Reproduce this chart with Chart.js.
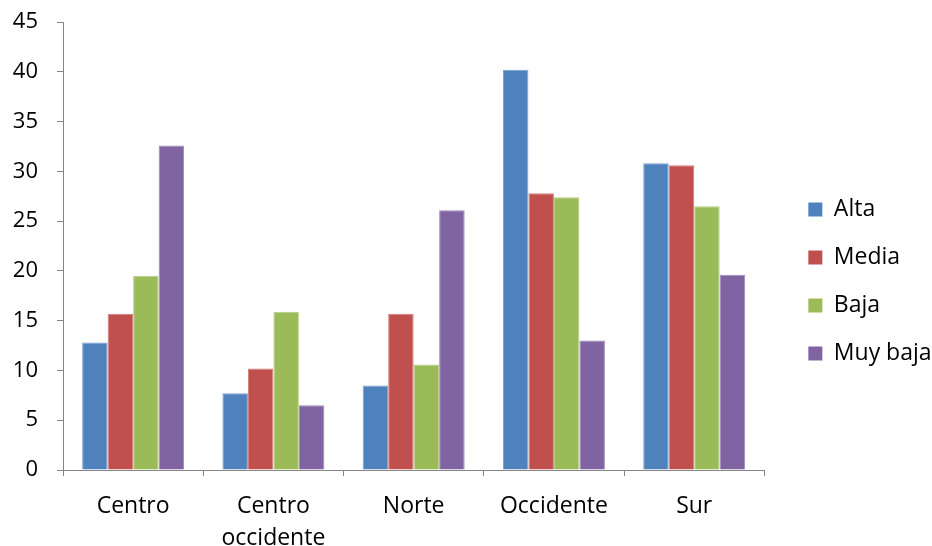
<!DOCTYPE html>
<html>
<head>
<meta charset="utf-8">
<script src="https://cdn.jsdelivr.net/npm/chart.js@4.4.1/dist/chart.umd.min.js"></script>
<style>
  html, body { margin: 0; padding: 0; background: #ffffff; }
  #wrap { width: 932px; height: 546px; }
</style>
</head>
<body>
<div id="wrap"><canvas id="grafico" width="932" height="546"></canvas></div>
<script>
// Regiones (categorías del eje X); las etiquetas con dos líneas van como arreglo
const regiones = [['Centro'], ['Centro', 'occidente'], ['Norte'], ['Occidente'], ['Sur']];

// Valores por nivel
const alta    = [12.8, 7.7, 8.5, 40.2, 30.8];
const media   = [15.7, 10.2, 15.7, 27.8, 30.6];
const baja    = [19.5, 15.9, 10.6, 27.4, 26.5];
const muyBaja = [32.6, 6.5, 26.1, 13.0, 19.6];

// Marcas del eje Y
const marcasY = [0, 5, 10, 15, 20, 25, 30, 35, 40, 45];

const FUENTE = "'Open Sans', 'DejaVu Sans', sans-serif";
const GRIS = '#868686';

new Chart(document.getElementById('grafico'), {
  type: 'bar',
  data: {
    labels: regiones,
    datasets: [
      { label: 'Alta',     data: alta,    backgroundColor: '#4F81BD', borderColor: '#7A9FCF' },
      { label: 'Media',    data: media,   backgroundColor: '#C0504D', borderColor: '#D07C79' },
      { label: 'Baja',     data: baja,    backgroundColor: '#9BBB59', borderColor: '#B6CE85' },
      { label: 'Muy baja', data: muyBaja, backgroundColor: '#8064A2', borderColor: '#9D88B8' }
    ]
  },
  options: {
    responsive: false,
    animation: false,
    devicePixelRatio: 1,
    layout: { padding: { top: 17, left: 0, right: -8, bottom: 0 } },
    datasets: {
      bar: { categoryPercentage: 0.727, barPercentage: 1.0, borderWidth: 1 }
    },
    plugins: {
      tooltip: { enabled: false },
      legend: {
        position: 'right',
        align: 'center',
        labels: {
          boxWidth: 14,
          boxHeight: 14,
          padding: 25,
          color: '#000000',
          font: { family: FUENTE, size: 23 },
          generateLabels: (chart) => chart.data.datasets.map((ds, i) => ({
            text: ds.label,
            fillStyle: ds.backgroundColor,
            strokeStyle: ds.backgroundColor,
            lineWidth: 0,
            fontColor: '#000000',
            hidden: false,
            datasetIndex: i
          }))
        }
      }
    },
    scales: {
      x: {
        grid: { drawOnChartArea: false, offset: true, color: GRIS, tickLength: 6 },
        border: { color: GRIS, width: 1 },
        ticks: {
          color: '#000000',
          padding: 14,
          maxRotation: 0,
          autoSkip: false,
          font: { family: FUENTE, size: 23, lineHeight: 1.39 }
        },
        afterFit: (s) => { s.height = 76; }
      },
      y: {
        min: 0,
        max: 45,
        afterBuildTicks: (s) => { s.ticks = marcasY.map(v => ({ value: v })); },
        grid: { drawOnChartArea: false, color: GRIS, tickLength: 6 },
        border: { color: GRIS, width: 1 },
        ticks: {
          color: '#000000',
          padding: 19,
          font: { family: FUENTE, size: 22 }
        },
        afterFit: (s) => { s.width = 63; s.paddingTop = 22; s.paddingBottom = 0; }
      },
      // separación entre el área de trazado y la leyenda
      sep: {
        type: 'linear',
        position: 'right',
        display: true,
        grid: { display: false },
        border: { display: false },
        ticks: { display: false },
        afterFit: (s) => { s.width = 19; }
      }
    }
  }
});
</script>
</body>
</html>
